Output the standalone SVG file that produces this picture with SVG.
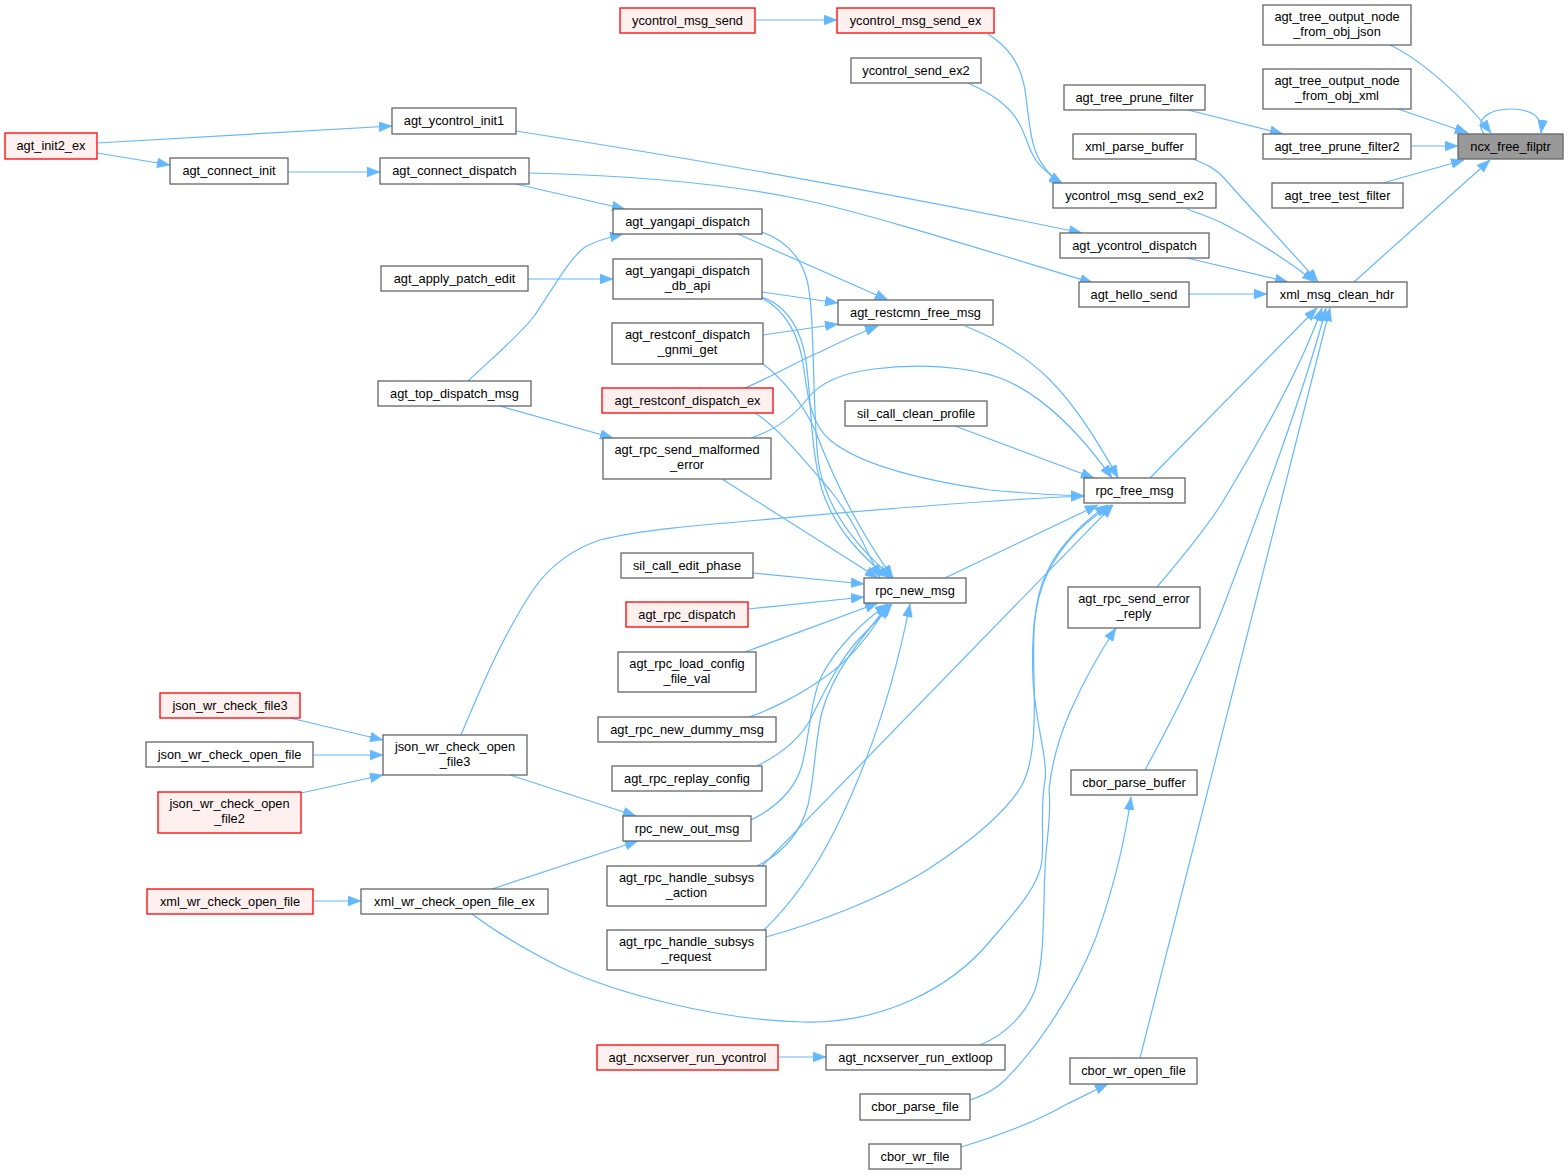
<svg xmlns="http://www.w3.org/2000/svg" width="1568" height="1175" viewBox="0 0 1568 1175">
<style>
.bg{fill:#ffffff}
.e{fill:none;stroke:#63b8ff;stroke-width:1.2;marker-end:url(#ah)}
.n rect{fill:#ffffff;stroke:#666666;stroke-width:1.3}
.r rect{fill:#fff0f0;stroke:#ff0000;stroke-width:1.3}
.f rect{fill:#999999;stroke:#666666;stroke-width:1.3}
text{font-family:"Liberation Sans",Arial,Helvetica,sans-serif;font-size:12.8px;fill:#000000;text-anchor:middle}
</style>
<defs>
<marker id="ah" viewBox="0 0 13 10" refX="13" refY="5" markerWidth="13" markerHeight="10" markerUnits="userSpaceOnUse" orient="auto">
<path d="M0,0 L13,5 L0,10 Z" fill="#63b8ff" stroke="#63b8ff" stroke-width="0.5"/>
</marker>
</defs>
<rect class="bg" x="0" y="0" width="1568" height="1175"/>
<g id="edges">
<path class="e" d="M1484,134 C1474,120 1488,109 1511,109 C1533,109 1543,118 1541,133"/>
<path class="e" d="M1390,45 C1418,58 1462,95 1491,133"/>
<path class="e" d="M1398,109 L1468,133"/>
<path class="e" d="M1411,146 L1458,146"/>
<path class="e" d="M1383,183 L1464,160"/>
<path class="e" d="M1354,282 L1490,160"/>
<path class="e" d="M1188,110 L1283,134"/>
<path class="e" d="M1193,159 C1208,165 1216,169 1224,178 C1252,210 1292,252 1318,282"/>
<path class="e" d="M1187,209 C1200,214 1212,218 1222,223 C1255,240 1290,262 1315,282"/>
<path class="e" d="M1187,258 L1288,282"/>
<path class="e" d="M1189,294 L1267,294"/>
<path class="e" d="M1150,478 L1317,308"/>
<path class="e" d="M1157,587 C1180,560 1205,530 1222,503 C1260,440 1300,370 1322,308"/>
<path class="e" d="M1145,770 C1175,715 1200,665 1222,610 C1260,510 1305,390 1326,308"/>
<path class="e" d="M1140,1058 L1330,308"/>
<path class="e" d="M755,20 L837,20"/>
<path class="e" d="M988,34 C1005,45 1020,60 1025,90 C1030,125 1030,150 1045,168 C1050,175 1056,180 1063,184"/>
<path class="e" d="M968,83 C990,93 1010,105 1020,125 C1028,140 1030,158 1045,170 C1050,175 1056,180 1062,184"/>
<path class="e" d="M97,143 L392,126"/>
<path class="e" d="M97,153 L170,165"/>
<path class="e" d="M288,172 L380,172"/>
<path class="e" d="M516,131 C700,160 900,195 1082,233"/>
<path class="e" d="M529,173 C610,175 720,182 804,200 C870,214 990,252 1093,283"/>
<path class="e" d="M516,184 L625,209"/>
<path class="e" d="M468,381 C490,360 520,335 535,315 C555,285 570,258 585,247 C598,240 610,237 623,234"/>
<path class="e" d="M528,279 L613,279"/>
<path class="e" d="M738,234 L888,300"/>
<path class="e" d="M762,292 L838,303"/>
<path class="e" d="M763,335 L838,324"/>
<path class="e" d="M745,388 C775,375 800,360 820,352 C840,342 860,333 878,326"/>
<path class="e" d="M762,232 C785,240 800,255 807,280 C815,310 812,400 818,460 C825,510 860,550 893,578"/>
<path class="e" d="M762,297 C785,305 798,325 804,350 C812,385 808,440 822,490 C835,530 865,560 890,578"/>
<path class="e" d="M762,298 C785,310 800,335 804,370 C808,400 812,425 830,440 C860,465 920,480 990,490 C1030,494 1060,495 1084,496"/>
<path class="e" d="M762,363 C780,377 800,398 815,430 C830,470 855,525 893,578"/>
<path class="e" d="M755,413 C775,425 800,455 830,490 C850,515 865,545 880,578"/>
<path class="e" d="M722,479 L878,578"/>
<path class="e" d="M751,438 C775,430 795,415 808,398 C820,383 840,373 874,369 C920,363 970,367 1000,378 C1045,395 1085,440 1112,478"/>
<path class="e" d="M500,406 L613,438"/>
<path class="e" d="M965,326 C1000,340 1030,360 1050,380 C1075,405 1100,445 1118,478"/>
<path class="e" d="M955,426 L1094,478"/>
<path class="e" d="M945,578 L1098,505"/>
<path class="e" d="M753,573 L864,584"/>
<path class="e" d="M748,609 L864,597"/>
<path class="e" d="M745,652 L878,603"/>
<path class="e" d="M749,717 C770,710 800,695 825,677 C850,660 870,635 888,605"/>
<path class="e" d="M755,767 C780,755 800,738 810,720 C825,690 840,660 858,640 C870,628 882,615 892,604"/>
<path class="e" d="M751,820 C775,808 795,790 802,765 C810,735 810,700 822,675 C838,645 865,620 888,604"/>
<path class="e" d="M755,867 C780,855 800,835 808,805 C815,775 815,740 822,712 C832,675 860,638 890,604"/>
<path class="e" d="M762,866 L1113,505"/>
<path class="e" d="M764,930 C790,905 815,870 835,830 C870,760 895,680 910,604"/>
<path class="e" d="M766,937 C810,925 880,900 930,868 C965,845 1005,815 1022,785 C1035,760 1035,720 1034,680 C1033,640 1032,600 1048,570 C1060,545 1085,520 1108,505"/>
<path class="e" d="M461,735 C478,695 500,640 533,590 C550,565 575,548 600,540 C640,530 700,525 760,520 C870,510 990,500 1084,496"/>
<path class="e" d="M510,775 L636,816"/>
<path class="e" d="M290,718 L383,740"/>
<path class="e" d="M313,755 L383,755"/>
<path class="e" d="M301,793 L383,775"/>
<path class="e" d="M313,901 L361,901"/>
<path class="e" d="M492,889 L638,841"/>
<path class="e" d="M472,914 C500,935 530,952 560,967 C620,995 720,1020 803,1022 C880,1024 950,990 991,940 C1015,912 1040,885 1042,860 C1044,830 1040,810 1045,780 C1048,760 1035,720 1033,680 C1031,630 1035,590 1055,560 C1070,535 1090,518 1112,505"/>
<path class="e" d="M778,1057 L826,1057"/>
<path class="e" d="M980,1045 C1005,1035 1025,1015 1035,990 C1045,960 1043,910 1045,870 C1046,840 1052,815 1049,790 C1052,760 1060,735 1070,712 C1082,685 1098,655 1116,628"/>
<path class="e" d="M970,1100 C985,1095 995,1090 1005,1080 C1040,1045 1075,990 1095,940 C1115,885 1125,840 1131,797"/>
<path class="e" d="M961,1147 C1000,1135 1040,1120 1065,1105 C1080,1098 1095,1090 1108,1084"/>
</g>
<g id="ncx_free_filptr" class="f"><rect x="1458" y="134" width="105" height="25"/><text x="1510.5" y="151">ncx_free_filptr</text></g>
<g id="agt_tree_output_node_from_obj_json" class="n"><rect x="1263" y="5" width="148" height="40"/><text x="1337" y="21">agt_tree_output_node</text><text x="1337" y="36">_from_obj_json</text></g>
<g id="agt_tree_output_node_from_obj_xml" class="n"><rect x="1263" y="69" width="148" height="40"/><text x="1337" y="85">agt_tree_output_node</text><text x="1337" y="100">_from_obj_xml</text></g>
<g id="agt_tree_prune_filter2" class="n"><rect x="1263" y="134" width="148" height="25"/><text x="1337" y="151">agt_tree_prune_filter2</text></g>
<g id="agt_tree_test_filter" class="n"><rect x="1272" y="183" width="131" height="25"/><text x="1337.5" y="200">agt_tree_test_filter</text></g>
<g id="xml_msg_clean_hdr" class="n"><rect x="1267" y="282" width="140" height="25"/><text x="1337" y="299">xml_msg_clean_hdr</text></g>
<g id="agt_tree_prune_filter" class="n"><rect x="1064" y="85" width="141" height="25"/><text x="1134.5" y="102">agt_tree_prune_filter</text></g>
<g id="xml_parse_buffer" class="n"><rect x="1073" y="134" width="123" height="25"/><text x="1134.5" y="151">xml_parse_buffer</text></g>
<g id="ycontrol_msg_send_ex2" class="n"><rect x="1053" y="183" width="163" height="25"/><text x="1134.5" y="200">ycontrol_msg_send_ex2</text></g>
<g id="agt_ycontrol_dispatch" class="n"><rect x="1060" y="233" width="149" height="25"/><text x="1134.5" y="250">agt_ycontrol_dispatch</text></g>
<g id="agt_hello_send" class="n"><rect x="1079" y="282" width="110" height="25"/><text x="1134" y="299">agt_hello_send</text></g>
<g id="rpc_free_msg" class="n"><rect x="1084" y="478" width="101" height="25"/><text x="1134.5" y="495">rpc_free_msg</text></g>
<g id="agt_rpc_send_error_reply" class="n"><rect x="1068" y="587" width="132" height="41"/><text x="1134" y="603">agt_rpc_send_error</text><text x="1134" y="618">_reply</text></g>
<g id="cbor_parse_buffer" class="n"><rect x="1071" y="770" width="126" height="25"/><text x="1134" y="787">cbor_parse_buffer</text></g>
<g id="cbor_wr_open_file" class="n"><rect x="1070" y="1058" width="127" height="26"/><text x="1133.5" y="1075">cbor_wr_open_file</text></g>
<g id="ycontrol_msg_send" class="r"><rect x="620" y="8" width="135" height="25"/><text x="687.5" y="25">ycontrol_msg_send</text></g>
<g id="ycontrol_msg_send_ex" class="r"><rect x="837" y="8" width="157" height="25"/><text x="915.5" y="25">ycontrol_msg_send_ex</text></g>
<g id="ycontrol_send_ex2" class="n"><rect x="851" y="58" width="130" height="25"/><text x="916" y="75">ycontrol_send_ex2</text></g>
<g id="agt_ycontrol_init1" class="n"><rect x="392" y="108" width="124" height="26"/><text x="454" y="125">agt_ycontrol_init1</text></g>
<g id="agt_init2_ex" class="r"><rect x="5" y="133" width="92" height="26"/><text x="51" y="150">agt_init2_ex</text></g>
<g id="agt_connect_init" class="n"><rect x="170" y="158" width="118" height="26"/><text x="229" y="175">agt_connect_init</text></g>
<g id="agt_connect_dispatch" class="n"><rect x="380" y="158" width="149" height="26"/><text x="454.5" y="175">agt_connect_dispatch</text></g>
<g id="agt_yangapi_dispatch" class="n"><rect x="613" y="209" width="149" height="25"/><text x="687.5" y="226">agt_yangapi_dispatch</text></g>
<g id="agt_apply_patch_edit" class="n"><rect x="381" y="266" width="147" height="25"/><text x="454.5" y="283">agt_apply_patch_edit</text></g>
<g id="agt_yangapi_dispatch_db_api" class="n"><rect x="613" y="259" width="149" height="40"/><text x="687.5" y="275">agt_yangapi_dispatch</text><text x="687.5" y="290">_db_api</text></g>
<g id="agt_restcmn_free_msg" class="n"><rect x="838" y="300" width="155" height="25"/><text x="915.5" y="317">agt_restcmn_free_msg</text></g>
<g id="agt_restconf_dispatch_gnmi_get" class="n"><rect x="612" y="323" width="151" height="41"/><text x="687.5" y="339">agt_restconf_dispatch</text><text x="687.5" y="354">_gnmi_get</text></g>
<g id="agt_top_dispatch_msg" class="n"><rect x="378" y="381" width="153" height="25"/><text x="454.5" y="398">agt_top_dispatch_msg</text></g>
<g id="agt_restconf_dispatch_ex" class="r"><rect x="602" y="388" width="171" height="25"/><text x="687.5" y="405">agt_restconf_dispatch_ex</text></g>
<g id="sil_call_clean_profile" class="n"><rect x="845" y="401" width="142" height="25"/><text x="916" y="418">sil_call_clean_profile</text></g>
<g id="agt_rpc_send_malformed_error" class="n"><rect x="603" y="438" width="168" height="41"/><text x="687" y="454">agt_rpc_send_malformed</text><text x="687" y="469">_error</text></g>
<g id="sil_call_edit_phase" class="n"><rect x="621" y="553" width="132" height="25"/><text x="687" y="570">sil_call_edit_phase</text></g>
<g id="rpc_new_msg" class="n"><rect x="864" y="578" width="102" height="25"/><text x="915" y="595">rpc_new_msg</text></g>
<g id="agt_rpc_dispatch" class="r"><rect x="626" y="602" width="122" height="25"/><text x="687" y="619">agt_rpc_dispatch</text></g>
<g id="agt_rpc_load_config_file_val" class="n"><rect x="618" y="652" width="138" height="40"/><text x="687" y="668">agt_rpc_load_config</text><text x="687" y="683">_file_val</text></g>
<g id="json_wr_check_file3" class="r"><rect x="160" y="693" width="140" height="25"/><text x="230" y="710">json_wr_check_file3</text></g>
<g id="agt_rpc_new_dummy_msg" class="n"><rect x="598" y="717" width="178" height="25"/><text x="687" y="734">agt_rpc_new_dummy_msg</text></g>
<g id="json_wr_check_open_file" class="n"><rect x="146" y="742" width="167" height="25"/><text x="229.5" y="759">json_wr_check_open_file</text></g>
<g id="json_wr_check_open_file3" class="n"><rect x="383" y="735" width="144" height="40"/><text x="455" y="751">json_wr_check_open</text><text x="455" y="766">_file3</text></g>
<g id="agt_rpc_replay_config" class="n"><rect x="612" y="766" width="150" height="25"/><text x="687" y="783">agt_rpc_replay_config</text></g>
<g id="json_wr_check_open_file2" class="r"><rect x="158" y="792" width="143" height="41"/><text x="229.5" y="808">json_wr_check_open</text><text x="229.5" y="823">_file2</text></g>
<g id="rpc_new_out_msg" class="n"><rect x="623" y="816" width="128" height="25"/><text x="687" y="833">rpc_new_out_msg</text></g>
<g id="agt_rpc_handle_subsys_action" class="n"><rect x="607" y="866" width="159" height="40"/><text x="686.5" y="882">agt_rpc_handle_subsys</text><text x="686.5" y="897">_action</text></g>
<g id="xml_wr_check_open_file" class="r"><rect x="147" y="889" width="166" height="25"/><text x="230" y="906">xml_wr_check_open_file</text></g>
<g id="xml_wr_check_open_file_ex" class="n"><rect x="361" y="889" width="187" height="25"/><text x="454.5" y="906">xml_wr_check_open_file_ex</text></g>
<g id="agt_rpc_handle_subsys_request" class="n"><rect x="607" y="930" width="159" height="40"/><text x="686.5" y="946">agt_rpc_handle_subsys</text><text x="686.5" y="961">_request</text></g>
<g id="agt_ncxserver_run_ycontrol" class="r"><rect x="597" y="1045" width="181" height="25"/><text x="687.5" y="1062">agt_ncxserver_run_ycontrol</text></g>
<g id="agt_ncxserver_run_extloop" class="n"><rect x="826" y="1045" width="179" height="25"/><text x="915.5" y="1062">agt_ncxserver_run_extloop</text></g>
<g id="cbor_parse_file" class="n"><rect x="860" y="1094" width="110" height="26"/><text x="915" y="1111">cbor_parse_file</text></g>
<g id="cbor_wr_file" class="n"><rect x="869" y="1144" width="92" height="25"/><text x="915" y="1161">cbor_wr_file</text></g>
</svg>
